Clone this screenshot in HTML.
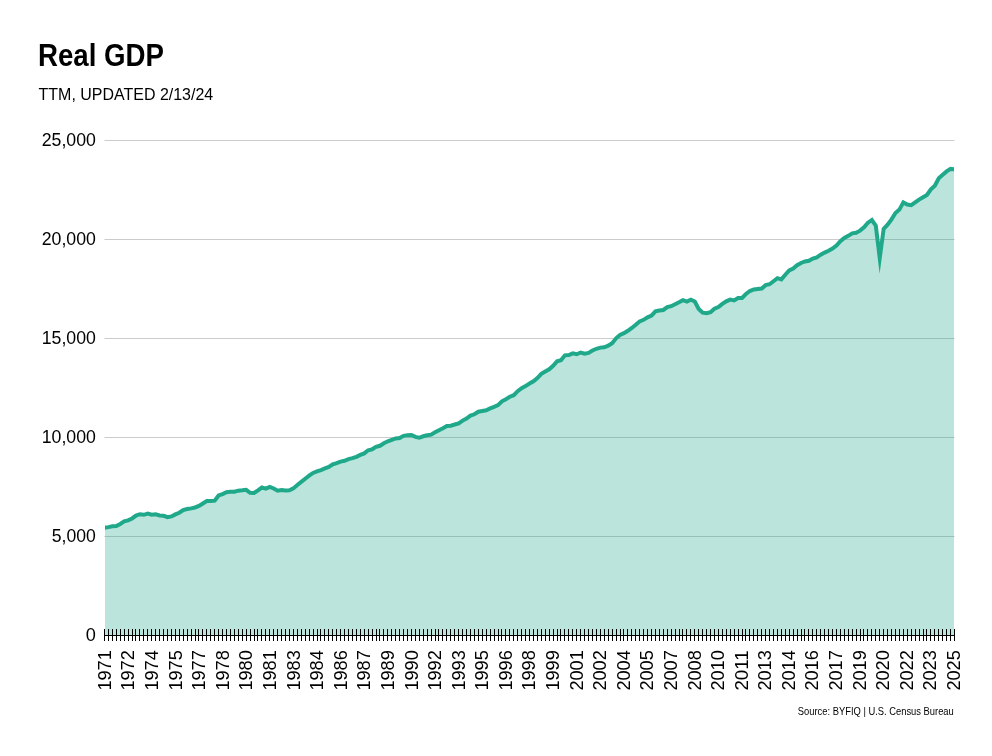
<!DOCTYPE html>
<html lang="en">
<head>
<meta charset="utf-8">
<title>Real GDP</title>
<style>
html,body{margin:0;padding:0;background:#ffffff;}
body{width:992px;height:756px;position:relative;overflow:hidden;font-family:"Liberation Sans",sans-serif;color:#000;}
svg{position:absolute;left:0;top:0;display:block;}
svg text{font-family:"Liberation Sans",sans-serif;fill:#000;}
.title{font-size:31.5px;font-weight:700;}
.subtitle{font-size:16.6px;}
.source{font-size:10.1px;fill:#000;}
.ylabels text{font-size:18.5px;}
.xlabels text{font-size:18.5px;}
.grid line{stroke:#cccccc;stroke-width:1;}
.axis line,.axis path{stroke:#000;stroke-width:1;fill:none;shape-rendering:crispEdges;}
.area{fill:#1fa98a;fill-opacity:0.3;stroke:none;}
.line{fill:none;stroke:#1fa98a;stroke-width:4;stroke-linejoin:miter;stroke-miterlimit:10;stroke-linecap:butt;}
</style>
</head>
<body>
<svg width="992" height="756" viewBox="0 0 992 756" role="img" aria-label="Real GDP">
<text class="title" x="38.0" y="66.0" textLength="126.0" lengthAdjust="spacingAndGlyphs">Real GDP</text>
<text class="subtitle" x="38.6" y="99.9" textLength="174.6" lengthAdjust="spacingAndGlyphs">TTM, UPDATED 2/13/24</text>
<g class="grid">
<line x1="104.5" x2="954.5" y1="536.50" y2="536.50"/>
<line x1="104.5" x2="954.5" y1="437.50" y2="437.50"/>
<line x1="104.5" x2="954.5" y1="338.50" y2="338.50"/>
<line x1="104.5" x2="954.5" y1="239.50" y2="239.50"/>
<line x1="104.5" x2="954.5" y1="140.50" y2="140.50"/>
</g>
<clipPath id="plotclip"><rect x="105" y="0" width="849" height="640"/></clipPath>
<g clip-path="url(#plotclip)">
<path class="area" d="M104.50,527.72L108.44,527.13L112.37,526.24L116.31,525.99L120.24,523.97L124.18,521.44L128.11,520.36L132.05,518.44L135.98,515.54L139.92,514.20L143.85,514.80L147.79,513.62L151.72,514.62L155.66,514.30L159.59,515.41L163.53,515.83L167.46,517.25L171.40,516.41L175.33,514.37L179.27,512.75L183.20,509.99L187.14,509.07L191.07,508.38L195.01,507.47L198.94,505.95L202.88,503.44L206.81,501.06L210.75,501.06L214.69,500.63L218.62,495.43L222.56,494.03L226.49,492.13L230.43,491.87L234.36,491.72L238.30,490.65L242.23,490.29L246.17,489.84L250.10,492.83L254.04,493.00L257.97,490.35L261.91,487.51L265.84,488.61L269.78,486.85L273.71,488.47L277.65,490.75L281.58,490.02L285.52,490.51L289.45,490.38L293.39,488.41L297.32,485.01L301.26,481.95L305.19,478.76L309.13,475.71L313.06,472.96L317.00,471.40L320.94,470.06L324.87,468.46L328.81,467.00L332.74,464.44L336.68,463.17L340.61,461.57L344.55,460.79L348.48,459.12L352.42,458.18L356.35,456.87L360.29,454.95L364.22,453.39L368.16,450.28L372.09,449.32L376.03,446.89L379.96,445.79L383.90,443.27L387.83,441.32L391.77,439.84L395.70,438.40L399.64,438.01L403.57,435.86L407.51,435.14L411.44,435.01L415.38,436.83L419.31,437.75L423.25,436.27L427.19,435.31L431.12,434.67L435.06,432.32L438.99,430.17L442.93,428.20L446.86,426.04L450.80,425.69L454.73,424.47L458.67,423.47L462.60,420.59L466.54,418.51L470.47,415.57L474.41,414.29L478.34,411.76L482.28,410.97L486.21,410.30L490.15,408.38L494.08,406.84L498.02,405.13L501.95,401.30L505.89,399.20L509.82,396.75L513.76,395.21L517.69,391.22L521.63,388.17L525.56,386.07L529.50,383.57L533.44,381.24L537.37,378.04L541.31,373.90L545.24,371.45L549.18,369.25L553.11,365.72L557.05,361.31L560.98,360.31L564.92,355.31L568.85,355.02L572.79,353.35L576.72,354.27L580.66,352.52L584.59,353.65L588.53,352.88L592.46,350.52L596.40,348.78L600.33,347.61L604.27,347.26L608.20,345.74L612.14,343.18L616.07,338.32L620.01,334.88L623.94,333.18L627.88,330.84L631.81,327.95L635.75,324.82L639.69,321.37L643.62,319.83L647.56,317.36L651.49,315.59L655.43,311.29L659.36,310.46L663.30,309.97L667.23,307.17L671.17,306.19L675.10,304.18L679.04,302.27L682.97,300.18L686.91,301.61L690.84,299.70L694.78,301.53L698.71,308.91L702.65,312.69L706.58,313.27L710.52,312.14L714.45,308.64L718.39,307.06L722.32,303.88L726.26,301.33L730.19,299.57L734.13,300.37L738.06,297.98L742.00,297.93L745.94,294.02L749.87,291.03L753.81,289.50L757.74,288.99L761.68,288.59L765.61,285.17L769.55,284.23L773.48,281.24L777.42,278.15L781.35,279.38L785.29,274.78L789.22,270.40L793.16,268.56L797.09,265.26L801.03,262.96L804.96,261.47L808.90,260.78L812.83,258.60L816.77,257.39L820.70,254.71L824.64,252.60L828.57,250.74L832.51,248.58L836.44,245.53L840.38,241.14L844.31,237.93L848.25,235.82L852.19,233.33L856.12,232.79L860.06,230.63L863.99,227.30L867.93,222.71L871.86,220.07L875.80,225.73L879.73,258.03L883.67,228.79L887.60,224.60L891.54,219.33L895.47,213.02L899.41,209.59L903.34,202.38L907.28,204.54L911.21,205.15L915.15,202.33L919.08,199.58L923.02,197.17L926.95,194.94L930.89,189.25L934.82,185.64L938.76,178.22L942.69,174.75L946.63,171.39L950.56,168.91L954.50,169.41L954.50,635.50L104.50,635.50Z"/>
<path class="line" d="M104.50,527.72L108.44,527.13L112.37,526.24L116.31,525.99L120.24,523.97L124.18,521.44L128.11,520.36L132.05,518.44L135.98,515.54L139.92,514.20L143.85,514.80L147.79,513.62L151.72,514.62L155.66,514.30L159.59,515.41L163.53,515.83L167.46,517.25L171.40,516.41L175.33,514.37L179.27,512.75L183.20,509.99L187.14,509.07L191.07,508.38L195.01,507.47L198.94,505.95L202.88,503.44L206.81,501.06L210.75,501.06L214.69,500.63L218.62,495.43L222.56,494.03L226.49,492.13L230.43,491.87L234.36,491.72L238.30,490.65L242.23,490.29L246.17,489.84L250.10,492.83L254.04,493.00L257.97,490.35L261.91,487.51L265.84,488.61L269.78,486.85L273.71,488.47L277.65,490.75L281.58,490.02L285.52,490.51L289.45,490.38L293.39,488.41L297.32,485.01L301.26,481.95L305.19,478.76L309.13,475.71L313.06,472.96L317.00,471.40L320.94,470.06L324.87,468.46L328.81,467.00L332.74,464.44L336.68,463.17L340.61,461.57L344.55,460.79L348.48,459.12L352.42,458.18L356.35,456.87L360.29,454.95L364.22,453.39L368.16,450.28L372.09,449.32L376.03,446.89L379.96,445.79L383.90,443.27L387.83,441.32L391.77,439.84L395.70,438.40L399.64,438.01L403.57,435.86L407.51,435.14L411.44,435.01L415.38,436.83L419.31,437.75L423.25,436.27L427.19,435.31L431.12,434.67L435.06,432.32L438.99,430.17L442.93,428.20L446.86,426.04L450.80,425.69L454.73,424.47L458.67,423.47L462.60,420.59L466.54,418.51L470.47,415.57L474.41,414.29L478.34,411.76L482.28,410.97L486.21,410.30L490.15,408.38L494.08,406.84L498.02,405.13L501.95,401.30L505.89,399.20L509.82,396.75L513.76,395.21L517.69,391.22L521.63,388.17L525.56,386.07L529.50,383.57L533.44,381.24L537.37,378.04L541.31,373.90L545.24,371.45L549.18,369.25L553.11,365.72L557.05,361.31L560.98,360.31L564.92,355.31L568.85,355.02L572.79,353.35L576.72,354.27L580.66,352.52L584.59,353.65L588.53,352.88L592.46,350.52L596.40,348.78L600.33,347.61L604.27,347.26L608.20,345.74L612.14,343.18L616.07,338.32L620.01,334.88L623.94,333.18L627.88,330.84L631.81,327.95L635.75,324.82L639.69,321.37L643.62,319.83L647.56,317.36L651.49,315.59L655.43,311.29L659.36,310.46L663.30,309.97L667.23,307.17L671.17,306.19L675.10,304.18L679.04,302.27L682.97,300.18L686.91,301.61L690.84,299.70L694.78,301.53L698.71,308.91L702.65,312.69L706.58,313.27L710.52,312.14L714.45,308.64L718.39,307.06L722.32,303.88L726.26,301.33L730.19,299.57L734.13,300.37L738.06,297.98L742.00,297.93L745.94,294.02L749.87,291.03L753.81,289.50L757.74,288.99L761.68,288.59L765.61,285.17L769.55,284.23L773.48,281.24L777.42,278.15L781.35,279.38L785.29,274.78L789.22,270.40L793.16,268.56L797.09,265.26L801.03,262.96L804.96,261.47L808.90,260.78L812.83,258.60L816.77,257.39L820.70,254.71L824.64,252.60L828.57,250.74L832.51,248.58L836.44,245.53L840.38,241.14L844.31,237.93L848.25,235.82L852.19,233.33L856.12,232.79L860.06,230.63L863.99,227.30L867.93,222.71L871.86,220.07L875.80,225.73L879.73,258.03L883.67,228.79L887.60,224.60L891.54,219.33L895.47,213.02L899.41,209.59L903.34,202.38L907.28,204.54L911.21,205.15L915.15,202.33L919.08,199.58L923.02,197.17L926.95,194.94L930.89,189.25L934.82,185.64L938.76,178.22L942.69,174.75L946.63,171.39L950.56,168.91L954.50,169.41"/>
</g>
<g class="axis">
<line x1="104.0" x2="955.0" y1="635.3" y2="635.3"/>
<path d="M104.50,629v12M108.44,629v12M112.37,629v12M116.31,629v12M120.24,629v12M124.18,629v12M128.11,629v12M132.05,629v12M135.98,629v12M139.92,629v12M143.85,629v12M147.79,629v12M151.72,629v12M155.66,629v12M159.59,629v12M163.53,629v12M167.46,629v12M171.40,629v12M175.33,629v12M179.27,629v12M183.20,629v12M187.14,629v12M191.07,629v12M195.01,629v12M198.94,629v12M202.88,629v12M206.81,629v12M210.75,629v12M214.69,629v12M218.62,629v12M222.56,629v12M226.49,629v12M230.43,629v12M234.36,629v12M238.30,629v12M242.23,629v12M246.17,629v12M250.10,629v12M254.04,629v12M257.97,629v12M261.91,629v12M265.84,629v12M269.78,629v12M273.71,629v12M277.65,629v12M281.58,629v12M285.52,629v12M289.45,629v12M293.39,629v12M297.32,629v12M301.26,629v12M305.19,629v12M309.13,629v12M313.06,629v12M317.00,629v12M320.94,629v12M324.87,629v12M328.81,629v12M332.74,629v12M336.68,629v12M340.61,629v12M344.55,629v12M348.48,629v12M352.42,629v12M356.35,629v12M360.29,629v12M364.22,629v12M368.16,629v12M372.09,629v12M376.03,629v12M379.96,629v12M383.90,629v12M387.83,629v12M391.77,629v12M395.70,629v12M399.64,629v12M403.57,629v12M407.51,629v12M411.44,629v12M415.38,629v12M419.31,629v12M423.25,629v12M427.19,629v12M431.12,629v12M435.06,629v12M438.99,629v12M442.93,629v12M446.86,629v12M450.80,629v12M454.73,629v12M458.67,629v12M462.60,629v12M466.54,629v12M470.47,629v12M474.41,629v12M478.34,629v12M482.28,629v12M486.21,629v12M490.15,629v12M494.08,629v12M498.02,629v12M501.95,629v12M505.89,629v12M509.82,629v12M513.76,629v12M517.69,629v12M521.63,629v12M525.56,629v12M529.50,629v12M533.44,629v12M537.37,629v12M541.31,629v12M545.24,629v12M549.18,629v12M553.11,629v12M557.05,629v12M560.98,629v12M564.92,629v12M568.85,629v12M572.79,629v12M576.72,629v12M580.66,629v12M584.59,629v12M588.53,629v12M592.46,629v12M596.40,629v12M600.33,629v12M604.27,629v12M608.20,629v12M612.14,629v12M616.07,629v12M620.01,629v12M623.94,629v12M627.88,629v12M631.81,629v12M635.75,629v12M639.69,629v12M643.62,629v12M647.56,629v12M651.49,629v12M655.43,629v12M659.36,629v12M663.30,629v12M667.23,629v12M671.17,629v12M675.10,629v12M679.04,629v12M682.97,629v12M686.91,629v12M690.84,629v12M694.78,629v12M698.71,629v12M702.65,629v12M706.58,629v12M710.52,629v12M714.45,629v12M718.39,629v12M722.32,629v12M726.26,629v12M730.19,629v12M734.13,629v12M738.06,629v12M742.00,629v12M745.94,629v12M749.87,629v12M753.81,629v12M757.74,629v12M761.68,629v12M765.61,629v12M769.55,629v12M773.48,629v12M777.42,629v12M781.35,629v12M785.29,629v12M789.22,629v12M793.16,629v12M797.09,629v12M801.03,629v12M804.96,629v12M808.90,629v12M812.83,629v12M816.77,629v12M820.70,629v12M824.64,629v12M828.57,629v12M832.51,629v12M836.44,629v12M840.38,629v12M844.31,629v12M848.25,629v12M852.19,629v12M856.12,629v12M860.06,629v12M863.99,629v12M867.93,629v12M871.86,629v12M875.80,629v12M879.73,629v12M883.67,629v12M887.60,629v12M891.54,629v12M895.47,629v12M899.41,629v12M903.34,629v12M907.28,629v12M911.21,629v12M915.15,629v12M919.08,629v12M923.02,629v12M926.95,629v12M930.89,629v12M934.82,629v12M938.76,629v12M942.69,629v12M946.63,629v12M950.56,629v12M954.50,629v12"/>
</g>
<g class="ylabels">
<text x="85.78" y="640.90" textLength="10.12" lengthAdjust="spacingAndGlyphs">0</text>
<text x="51.82" y="541.90" textLength="44.08" lengthAdjust="spacingAndGlyphs">5,000</text>
<text x="41.70" y="442.90" textLength="54.20" lengthAdjust="spacingAndGlyphs">10,000</text>
<text x="41.70" y="343.90" textLength="54.20" lengthAdjust="spacingAndGlyphs">15,000</text>
<text x="41.70" y="244.90" textLength="54.20" lengthAdjust="spacingAndGlyphs">20,000</text>
<text x="41.70" y="145.90" textLength="54.20" lengthAdjust="spacingAndGlyphs">25,000</text>
</g>
<g class="xlabels">
<text transform="translate(110.90,690.60) rotate(-90)" textLength="40.4" lengthAdjust="spacingAndGlyphs">1971</text>
<text transform="translate(134.49,690.60) rotate(-90)" textLength="40.4" lengthAdjust="spacingAndGlyphs">1972</text>
<text transform="translate(158.07,690.60) rotate(-90)" textLength="40.4" lengthAdjust="spacingAndGlyphs">1974</text>
<text transform="translate(181.66,690.60) rotate(-90)" textLength="40.4" lengthAdjust="spacingAndGlyphs">1975</text>
<text transform="translate(205.24,690.60) rotate(-90)" textLength="40.4" lengthAdjust="spacingAndGlyphs">1977</text>
<text transform="translate(228.83,690.60) rotate(-90)" textLength="40.4" lengthAdjust="spacingAndGlyphs">1978</text>
<text transform="translate(252.42,690.60) rotate(-90)" textLength="40.4" lengthAdjust="spacingAndGlyphs">1980</text>
<text transform="translate(276.00,690.60) rotate(-90)" textLength="40.4" lengthAdjust="spacingAndGlyphs">1981</text>
<text transform="translate(299.59,690.60) rotate(-90)" textLength="40.4" lengthAdjust="spacingAndGlyphs">1983</text>
<text transform="translate(323.17,690.60) rotate(-90)" textLength="40.4" lengthAdjust="spacingAndGlyphs">1984</text>
<text transform="translate(346.76,690.60) rotate(-90)" textLength="40.4" lengthAdjust="spacingAndGlyphs">1986</text>
<text transform="translate(370.35,690.60) rotate(-90)" textLength="40.4" lengthAdjust="spacingAndGlyphs">1987</text>
<text transform="translate(393.93,690.60) rotate(-90)" textLength="40.4" lengthAdjust="spacingAndGlyphs">1989</text>
<text transform="translate(417.52,690.60) rotate(-90)" textLength="40.4" lengthAdjust="spacingAndGlyphs">1990</text>
<text transform="translate(441.10,690.60) rotate(-90)" textLength="40.4" lengthAdjust="spacingAndGlyphs">1992</text>
<text transform="translate(464.69,690.60) rotate(-90)" textLength="40.4" lengthAdjust="spacingAndGlyphs">1993</text>
<text transform="translate(488.28,690.60) rotate(-90)" textLength="40.4" lengthAdjust="spacingAndGlyphs">1995</text>
<text transform="translate(511.86,690.60) rotate(-90)" textLength="40.4" lengthAdjust="spacingAndGlyphs">1996</text>
<text transform="translate(535.45,690.60) rotate(-90)" textLength="40.4" lengthAdjust="spacingAndGlyphs">1998</text>
<text transform="translate(559.03,690.60) rotate(-90)" textLength="40.4" lengthAdjust="spacingAndGlyphs">1999</text>
<text transform="translate(582.62,690.60) rotate(-90)" textLength="40.4" lengthAdjust="spacingAndGlyphs">2001</text>
<text transform="translate(606.21,690.60) rotate(-90)" textLength="40.4" lengthAdjust="spacingAndGlyphs">2002</text>
<text transform="translate(629.79,690.60) rotate(-90)" textLength="40.4" lengthAdjust="spacingAndGlyphs">2004</text>
<text transform="translate(653.38,690.60) rotate(-90)" textLength="40.4" lengthAdjust="spacingAndGlyphs">2005</text>
<text transform="translate(676.96,690.60) rotate(-90)" textLength="40.4" lengthAdjust="spacingAndGlyphs">2007</text>
<text transform="translate(700.55,690.60) rotate(-90)" textLength="40.4" lengthAdjust="spacingAndGlyphs">2008</text>
<text transform="translate(724.14,690.60) rotate(-90)" textLength="40.4" lengthAdjust="spacingAndGlyphs">2010</text>
<text transform="translate(747.72,690.60) rotate(-90)" textLength="40.4" lengthAdjust="spacingAndGlyphs">2011</text>
<text transform="translate(771.31,690.60) rotate(-90)" textLength="40.4" lengthAdjust="spacingAndGlyphs">2013</text>
<text transform="translate(794.89,690.60) rotate(-90)" textLength="40.4" lengthAdjust="spacingAndGlyphs">2014</text>
<text transform="translate(818.48,690.60) rotate(-90)" textLength="40.4" lengthAdjust="spacingAndGlyphs">2016</text>
<text transform="translate(842.07,690.60) rotate(-90)" textLength="40.4" lengthAdjust="spacingAndGlyphs">2017</text>
<text transform="translate(865.65,690.60) rotate(-90)" textLength="40.4" lengthAdjust="spacingAndGlyphs">2019</text>
<text transform="translate(889.24,690.60) rotate(-90)" textLength="40.4" lengthAdjust="spacingAndGlyphs">2020</text>
<text transform="translate(912.82,690.60) rotate(-90)" textLength="40.4" lengthAdjust="spacingAndGlyphs">2022</text>
<text transform="translate(936.41,690.60) rotate(-90)" textLength="40.4" lengthAdjust="spacingAndGlyphs">2023</text>
<text transform="translate(960.00,690.60) rotate(-90)" textLength="40.4" lengthAdjust="spacingAndGlyphs">2025</text>
</g>
<text class="source" x="797.80" y="714.9" textLength="156.0" lengthAdjust="spacingAndGlyphs">Source: BYFIQ | U.S. Census Bureau</text>
</svg>
</body>
</html>
